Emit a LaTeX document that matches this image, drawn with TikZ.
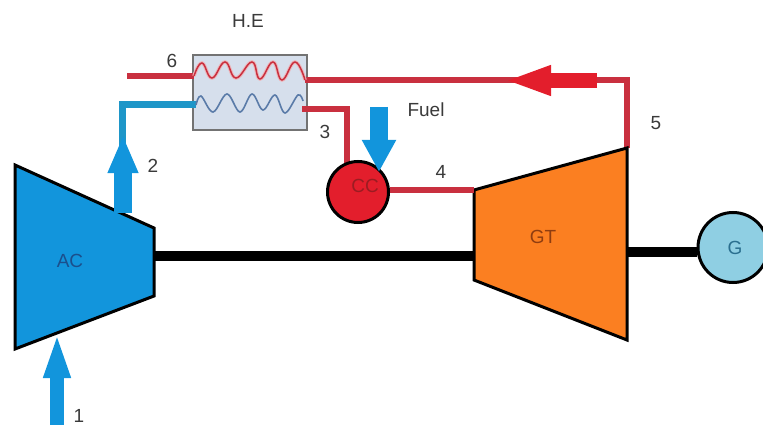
\documentclass[tikz,border=0pt]{standalone}
\usepackage{fontspec}
\setmainfont{Liberation Sans}
\usetikzlibrary{arrows.meta}
\definecolor{acblue}{HTML}{1295DC}
\definecolor{pipeblue}{HTML}{1E96C8}
\definecolor{pipered}{HTML}{C9303F}
\definecolor{arrowred}{HTML}{E31E2C}
\definecolor{gtorange}{HTML}{FB7F21}
\definecolor{genblue}{HTML}{8FCFE3}
\definecolor{hefill}{HTML}{D6DFEC}
\definecolor{labelc}{HTML}{3A3A3A}
\definecolor{coilblue}{HTML}{5A7BA8}
\definecolor{aclabel}{HTML}{1B4F8C}
\definecolor{gtlabel}{HTML}{8F3D10}
\definecolor{cclabel}{HTML}{9B1C22}
\definecolor{glabel}{HTML}{2A6F8F}
\tikzset{
  lab/.style={font=\fontsize{19}{19}\selectfont,text=labelc,inner sep=0pt},
  machine/.style={draw=black,line width=3pt,line join=miter},
  shaft/.style={draw=black,line width=10pt},
  hotpipe/.style={draw=pipered,line width=6.5pt,line join=miter},
  coldpipe/.style={draw=pipeblue,line width=7pt,line join=miter},
  roundunit/.style={circle,draw=black,line width=3pt,inner sep=0pt},
}
\begin{document}
\begin{tikzpicture}[x=1pt,y=-1pt]
\useasboundingbox (0,0) rectangle (763,425);
% anchor points
\coordinate (ac1) at (15,165);
\coordinate (ac2) at (154,228);
\coordinate (ac3) at (154,296);
\coordinate (ac4) at (15,349);
\coordinate (gt1) at (474,190);
\coordinate (gt2) at (627,148);
\coordinate (gt3) at (627,340);
\coordinate (gt4) at (474,280);
\coordinate (acshaft) at (154,256);
\coordinate (gtshaftl) at (474,256);
\coordinate (gtshaftr) at (627,252);
\coordinate (in0) at (57,425);
\coordinate (in1) at (57,332);
\coordinate (out0) at (123,213);
\coordinate (out1) at (123,135);
\coordinate (f0) at (379,107);
\coordinate (f1) at (379,172);
\coordinate (ex6) at (127,76);
\coordinate (he6) at (194,76);
\coordinate (he5) at (305,80);
\coordinate (he2) at (196,105);
\coordinate (he3) at (302,109);
\coordinate (corner2) at (122,105);
\coordinate (corner3) at (347,109);
\coordinate (corner5) at (627,80);
\coordinate (a0) at (597,80.5);
\coordinate (a1) at (504,80.5);
\coordinate (stub2) at (122,165);
\coordinate (stub3) at (347,170);
% shafts (behind machines)
\node[roundunit,fill=genblue,minimum size=70pt] (gen) at (733,247.5) {};
\draw[shaft] (acshaft) -- (gtshaftl);
\draw[shaft] (gtshaftr) -- (gen.west |- gtshaftr);
% heat exchanger
\node[draw=black!55,line width=2pt,fill=hefill,minimum width=114pt,minimum height=75pt,inner sep=0pt] (he) at (249.5,93) {};
% pipes
\draw[hotpipe] (ex6) -- (he6);
\draw[coldpipe] (he2) -- (corner2) -- (stub2);
\draw[hotpipe] (he3) -- (corner3) -- (stub3);
\draw[hotpipe] (he5) -- (corner5) -- (gt2);
\draw[draw=arrowred,line width=15pt,-{Triangle[length=47pt,width=27pt]}] (a0) -- (a1);
% coils
\draw[draw=pipered!35!white,line width=3.5pt] plot[smooth,tension=.75] coordinates {(194,76)(202,63)(212,78)(225,62)(236,78)(252,62)(260,79)(273,62)(282,80)(295,62)(305,80)};
\draw[draw=pipered,line width=1.5pt] plot[smooth,tension=.75] coordinates {(194,76)(202,63)(212,78)(225,62)(236,78)(252,62)(260,79)(273,62)(282,80)(295,62)(305,80)};
\draw[draw=coilblue,line width=1.6pt] plot[smooth,tension=.6] coordinates {(196,105)(201,96)(213,112)(227,94)(240,112)(252,94)(263,110)(275,95)(285,113)(298,95)(303,101)};
% machines
\filldraw[machine,fill=acblue] (ac1) -- (ac2) -- (ac3) -- (ac4) -- cycle;
\filldraw[machine,fill=gtorange] (gt1) -- (gt2) -- (gt3) -- (gt4) -- cycle;
% combustor
\node[roundunit,fill=arrowred,minimum size=61pt] (cc) at (358,192) {};
\draw[hotpipe] (cc.east |- gt1) -- (gt1);
% block arrows
\draw[draw=acblue,line width=14pt,-{Triangle[length=46pt,width=24pt]}] (in0) -- (in1);
\draw[draw=acblue,line width=18pt,-{Triangle[length=38pt,width=28pt]}] (out0) -- (out1);
\draw[draw=acblue,line width=18pt,-{Triangle[length=32pt,width=32pt]}] (f0) -- (f1);
% labels
\node[lab] (lhe) at (248,21) {H.E};
\node[lab] (l6) at (172,61) {6};
\node[lab] (l2) at (153,166) {2};
\node[lab] (l3) at (325,132) {3};
\node[lab] (l4) at (441,172) {4};
\node[lab] (l5) at (656,123) {5};
\node[lab] (l1) at (79,416) {1};
\node[lab] (lf) at (426,110) {Fuel};
\node[lab,text=aclabel] (lac) at (70,261) {AC};
\node[lab,text=gtlabel] (lgt) at (543,237) {GT};
\node[lab,text=cclabel] (lcc) at (365,186) {CC};
\node[lab,text=glabel] (lg) at (735,248) {G};
\end{tikzpicture}
\end{document}
